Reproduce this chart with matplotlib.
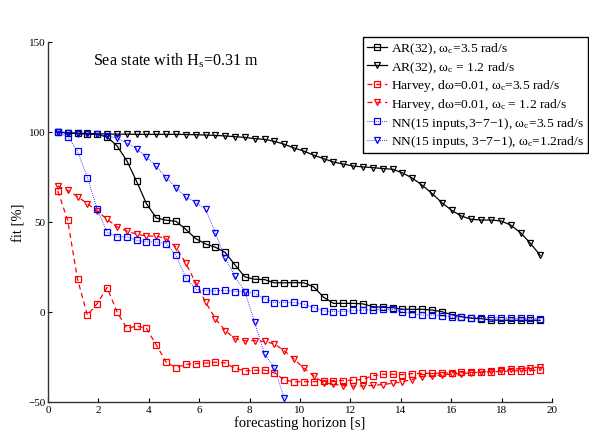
import numpy as np
import matplotlib
matplotlib.use("Agg")
import matplotlib.pyplot as plt

plt.rcParams["font.family"] = ["Liberation Serif", "DejaVu Serif"]
plt.rcParams["mathtext.fontset"] = "custom"
plt.rcParams["mathtext.rm"] = "Liberation Serif"
plt.rcParams["mathtext.it"] = "Liberation Serif:italic"

# forecasting horizon grid: sampling at 2.56 Hz, 1..50 steps ahead
dt = 1 / 2.56
steps = np.arange(1, 51)
horizon = steps * dt

ar_35 = [100, 99.5, 99.2, 98.8, 98.7, 97.2, 92.4, 84.1, 72.6, 60.2,
         52.2, 51.0, 50.4, 45.9, 40.8, 37.8, 36.0, 33.1, 26.1, 19.5,
         18.2, 18.0, 16.2, 16.2, 16.3, 16.2, 13.9, 8.2, 4.8, 4.8,
         4.8, 4.5, 3.0, 2.6, 2.4, 1.5, 1.5, 1.5, 1.1, 0.2,
         -1.5, -2.6, -3.5, -3.7, -4.4, -4.6, -4.6, -4.6, -4.6, -4.6]

ar_12 = [100, 99.5, 99.3, 99.2, 99.0, 98.9, 98.8, 98.8, 98.7, 98.7,
         98.7, 98.7, 98.7, 98.6, 98.5, 98.3, 98.1, 97.8, 97.4, 97.0,
         96.3, 95.9, 94.8, 93.2, 91.1, 89.4, 87.1, 85.2, 83.3, 82.2,
         81.1, 80.6, 80.2, 79.7, 79.3, 77.3, 74.4, 70.5, 65.9, 60.8,
         56.5, 53.3, 51.5, 51.1, 51.1, 50.6, 48.3, 44.1, 38.2, 31.5]

harvey_35 = [67.2, 50.9, 18.2, -1.8, 4.7, 13.6, 0.2, -9.1, -7.8, -9.1,
             -18.3, -27.8, -30.9, -29.1, -28.7, -28.4, -27.9, -28.3, -31.3, -32.7,
             -32.4, -32.2, -33.8, -37.7, -38.8, -38.7, -38.7, -38.5, -38.1, -38.1,
             -37.9, -37.4, -35.4, -34.6, -34.6, -34.8, -34.2, -34.1, -34.0, -34.0,
             -33.8, -33.6, -33.5, -33.4, -33.2, -33.0, -32.8, -32.6, -32.5, -32.3]

harvey_12 = [70.0, 67.6, 64.1, 60.2, 56.1, 51.5, 47.4, 45.0, 43.2, 42.2,
             42.2, 40.8, 36.0, 27.1, 16.3, 5.6, -3.7, -10.3, -14.8, -16.0,
             -15.9, -16.3, -17.8, -21.5, -26.2, -31.2, -35.5, -39.2, -40.2, -40.9,
             -41.2, -41.1, -40.8, -40.3, -39.6, -38.7, -37.5, -36.0, -35.5, -35.0,
             -34.5, -34.2, -33.8, -33.3, -32.9, -32.4, -31.9, -31.4, -31.0, -30.5]

nn_35 = [100, 97.4, 89.4, 74.7, 57.1, 44.4, 41.7, 41.7, 39.8, 38.9,
         38.9, 38.0, 31.5, 19.1, 12.6, 11.7, 11.7, 12.1, 11.3, 11.3,
         10.4, 7.4, 5.2, 5.2, 5.4, 4.3, 2.4, 0.6, 0.2, 0.2,
         0.9, 1.1, 1.1, 1.5, 1.5, 0.0, -0.9, -1.7, -1.7, -2.2,
         -2.8, -2.8, -3.1, -3.1, -3.1, -3.1, -3.5, -3.5, -3.5, -3.7]

nn_12 = [100, 99.5, 99.0, 98.9, 98.7, 98.0, 96.5, 94.0, 90.8, 86.2,
         80.9, 74.7, 69.1, 63.9, 60.8, 57.2, 44.1, 29.8, 19.8, 11.3,
         -5.8, -23.1, -31.2, -47.8]

labels = [
    "AR(32), ω$_{\\rm c}$=3.5 rad/s",
    "AR(32), ω$_{\\rm c}$ = 1.2 rad/s",
    "Harvey, dω=0.01, ω$_{\\rm c}$=3.5 rad/s",
    "Harvey, dω=0.01, ω$_{\\rm c}$ = 1.2 rad/s",
    "NN(15 inputs,3−7−1), ω$_{\\rm c}$=3.5 rad/s",
    "NN(15 inputs, 3−7−1), ω$_{\\rm c}$=1.2rad/s",
]

fig = plt.figure(figsize=(5.89, 4.31), dpi=100)
ax = fig.add_axes([48 / 589, 28 / 431, 504 / 589, 360 / 431])

sq = dict(marker="s", markersize=4.3, markerfacecolor="none", markeredgewidth=0.9)
tri = dict(marker="v", markersize=4.9, markerfacecolor="none", markeredgewidth=0.9)

ax.plot(horizon, ar_35, color="black", linestyle="-", linewidth=0.9, label=labels[0], **sq)
ax.plot(horizon, ar_12, color="black", linestyle="-", linewidth=0.9, label=labels[1], **tri)
ax.plot(horizon, harvey_35, color="red", linestyle=(0, (4, 3)), linewidth=0.9, label=labels[2], **sq)
ax.plot(horizon, harvey_12, color="red", linestyle=(0, (4, 3)), linewidth=0.9, label=labels[3], **tri)
ax.plot(horizon, nn_35, color="blue", linestyle=(0, (1, 1.5)), linewidth=0.6, label=labels[4], **sq)
ax.plot(horizon[:len(nn_12)], nn_12, color="blue", linestyle=(0, (1, 1.5)), linewidth=0.6,
        label=labels[5], **tri)

ax.set_xlim(0, 20)
ax.set_ylim(-50, 150)
ax.set_xticks(np.arange(0, 21, 2))
ax.set_yticks([-50, 0, 50, 100, 150])
ax.tick_params(direction="in", length=3, width=0.8, labelsize=8, pad=2)
for side in ("top", "right"):
    ax.spines[side].set_visible(False)
for side in ("left", "bottom"):
    ax.spines[side].set_linewidth(1.0)
    ax.spines[side].set_color("#333333")

ax.set_xlabel("forecasting horizon [s]", fontsize=10.5, labelpad=1)
ax.set_ylabel("fit [%]", fontsize=10.5, labelpad=2)

ax.text(1.78, 140, "Sea state with H$_{\\rm s}$=0.31 m", fontsize=11.6, va="center", ha="left")

leg = ax.legend(loc="upper right", bbox_to_anchor=(588 / 589, 1 - 38 / 431),
                bbox_transform=fig.transFigure, fontsize=9.7, frameon=True,
                fancybox=False, framealpha=1, edgecolor="black", handlelength=1.5,
                handletextpad=0.3, labelspacing=0.2, borderpad=0.3, borderaxespad=0)
leg.get_frame().set_linewidth(1.0)

fig.savefig("out.png", dpi=100)
